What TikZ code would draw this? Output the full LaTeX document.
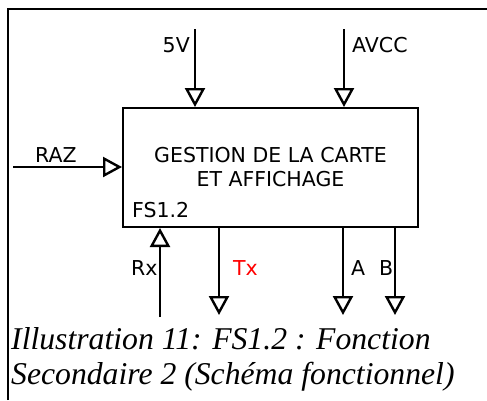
\documentclass[tikz,border=0pt]{standalone}
\usepackage{fontspec}
\setmainfont{DejaVu Sans}
\newfontfamily\capfont{Liberation Serif}
\usetikzlibrary{arrows.meta}
\tikzset{
  sig/.style={line width=2.6pt, -{Triangle[open, length=19pt, width=20pt, line width=2.4pt]}},
  lbl/.style={inner sep=0pt, font=\fontsize{20.5}{24}\selectfont},
  fbox/.style={draw, line width=2.8pt, inner sep=0pt},
}
\begin{document}
\begin{tikzpicture}[x=1pt,y=-1pt]
\useasboundingbox (0,0) rectangle (487,400);
% frame
\draw[line width=1.8pt] (8,400) -- (8,9) -- (487,9);
% block
\node[fbox, minimum width=295pt, minimum height=119pt] (blk) at (270.5,167.5) {};
\node[lbl, align=center, anchor=base] (t1) at (270.5,162) {GESTION DE LA CARTE};
\node[lbl, anchor=base] (t2) at (270.5,186) {ET AFFICHAGE};
\node[lbl, anchor=base west] (fs) at (132,217) {FS1.2};
% coordinates
\coordinate (v5s) at (195,29);
\coordinate (v5e) at (195,107);
\coordinate (avs) at (344,29);
\coordinate (ave) at (344,107);
\coordinate (razs) at (13,167);
\coordinate (raze) at (122,167);
\coordinate (rxs) at (160,317);
\coordinate (rxe) at (160,228);
\coordinate (txs) at (219,227);
\coordinate (txe) at (219,315);
\coordinate (as) at (343,227);
\coordinate (ae) at (343,315);
\coordinate (bs) at (395,227);
\coordinate (be) at (395,315);
\draw[sig] (v5s) -- (v5e);
\draw[sig] (avs) -- (ave);
\draw[sig] (razs) -- (raze);
\draw[sig] (rxs) -- (rxe);
\draw[sig] (txs) -- (txe);
\draw[sig] (as) -- (ae);
\draw[sig] (bs) -- (be);
% labels
\node[lbl, anchor=base east] (l5v) at (190,52) {5V};
\node[lbl, anchor=base west] (lav) at (352,52) {AVCC};
\node[lbl, anchor=base west] (lraz) at (35,162) {RAZ};
\node[lbl, anchor=base west] (lrx) at (131,275) {Rx};
\node[lbl, anchor=base west, text=red] (ltx) at (233,275) {Tx};
\node[lbl, anchor=base west] (la) at (351,275) {A};
\node[lbl, anchor=base west] (lb) at (379,275) {B};
% caption
\node[inner sep=0pt, anchor=base west, font=\capfont\itshape\fontsize{31.7}{35}\selectfont] (c1) at (11,349) {Illustration 11: FS1.2 : Fonction};
\node[inner sep=0pt, anchor=base west, font=\capfont\itshape\fontsize{31.7}{35}\selectfont] (c2) at (11,384) {Secondaire 2 (Schéma fonctionnel)};
\end{tikzpicture}
\end{document}
